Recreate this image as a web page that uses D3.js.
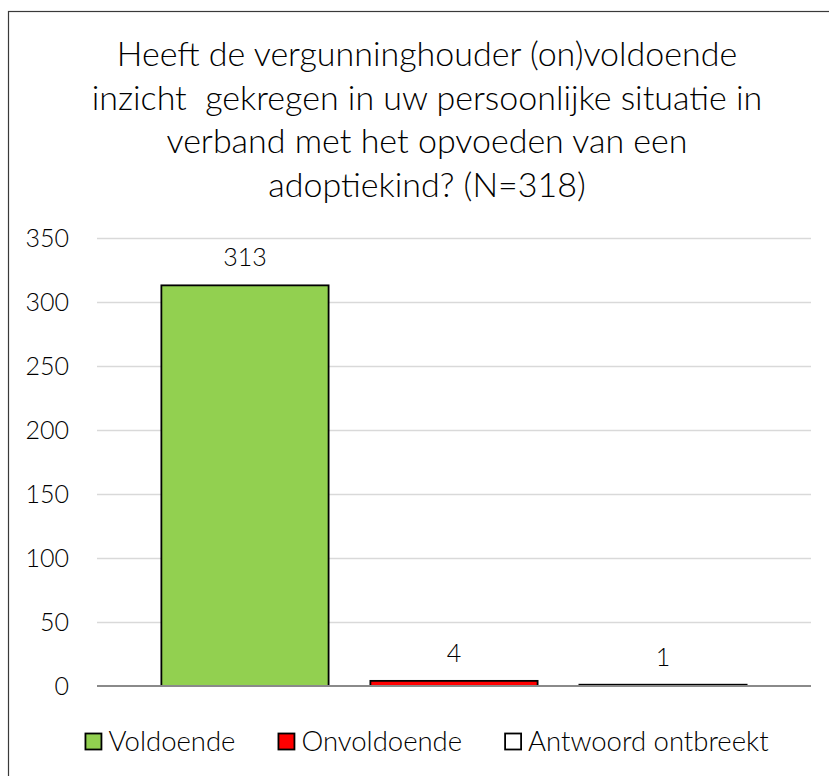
<!DOCTYPE html>
<html>
<head>
<meta charset="utf-8">
<script src="https://cdn.jsdelivr.net/npm/d3@7"></script>
<style>
  html, body { margin: 0; padding: 0; background: #fff; overflow: hidden; }
  text { font-family: Lato, "Open Sans", sans-serif; font-weight: 300; fill: #000; }
</style>
</head>
<body>
<div id="chart"></div>
<script>
// Data
const series = ['Voldoende', 'Onvoldoende', 'Antwoord ontbreekt'];
const values = [313, 4, 1];
const colors = ['#92D050', '#FF0000', '#FFFFFF'];
const yTicks = [0, 50, 100, 150, 200, 250, 300, 350];
const titleLines = [
    'Heeft de vergunninghouder (on)voldoende',
    'inzicht  gekregen in uw persoonlijke situatie in',
    'verband met het opvoeden van een',
    'adoptiekind? (N=318)'
];

const W = 829, H = 776;
const plot = {left: 97, right: 811, top: 238, bottom: 686};
const centerX = 427;

const svg = d3.select('#chart').append('svg')
    .attr('width', W)
    .attr('height', H);

// Chart border (runs off the right/bottom of the picture)
svg.append('rect')
    .attr('x', 8.5).attr('y', 11.5)
    .attr('width', 1000).attr('height', 1000)
    .attr('fill', 'none')
    .attr('stroke', '#3a3a3a')
    .attr('stroke-width', 1.2);

// Title
svg.append('text')
    .attr('text-anchor', 'middle')
    .style('font-size', '34px')
    .selectAll('tspan')
    .data(titleLines)
    .enter().append('tspan')
    .attr('x', centerX)
    .attr('y', (d, i) => 66 + i * 43.5)
    .style('white-space', 'pre')
    .text(d => d);

// Scales
const x = d3.scaleBand()
    .domain(series)
    .range([plot.left, plot.right])
    .paddingInner(0.2)
    .paddingOuter(0.308);

const y = d3.scaleLinear()
    .domain([0, 350])
    .range([plot.bottom, plot.top]);

// Gridlines
svg.append('g')
    .selectAll('line')
    .data(yTicks.filter(t => t > 0))
    .enter().append('line')
    .attr('x1', plot.left).attr('x2', plot.right)
    .attr('y1', d => Math.round(y(d)) + 0.5)
    .attr('y2', d => Math.round(y(d)) + 0.5)
    .attr('stroke', '#d9d9d9')
    .attr('stroke-width', 1.3);

// Y axis labels
const yAxis = svg.append('g')
    .attr('transform', 'translate(' + plot.left + ',0)')
    .call(d3.axisLeft(y).tickValues(yTicks).tickSize(0).tickPadding(28));
yAxis.select('.domain').remove();
yAxis.selectAll('text')
    .style('font-size', '25px')
    .style('font-family', 'Lato, sans-serif')
    .attr('fill', '#000');

// Bars
svg.selectAll('.bar')
    .data(series)
    .enter().append('rect')
    .attr('class', 'bar')
    .attr('x', d => x(d))
    .attr('width', x.bandwidth())
    .attr('y', (d, i) => y(values[i]))
    .attr('height', (d, i) => y(0) - y(values[i]))
    .attr('fill', (d, i) => colors[i])
    .attr('stroke', '#000')
    .attr('stroke-width', 1.8);

// Category axis line
svg.append('line')
    .attr('x1', plot.left).attr('x2', plot.right)
    .attr('y1', y(0)).attr('y2', y(0))
    .attr('stroke', '#8a8a8a')
    .attr('stroke-width', 2);

// Value labels
svg.selectAll('.label')
    .data(series)
    .enter().append('text')
    .attr('class', 'label')
    .attr('text-anchor', 'middle')
    .attr('x', d => x(d) + x.bandwidth() / 2)
    .attr('y', (d, i) => y(values[i]) - 19)
    .style('font-size', '25px')
    .text((d, i) => values[i]);

// Legend, centred under the chart
const legend = svg.append('g');
const items = legend.selectAll('g')
    .data(series)
    .enter().append('g');
items.append('rect')
    .attr('width', 16).attr('height', 16)
    .attr('y', 733.5)
    .attr('fill', (d, i) => colors[i])
    .attr('stroke', '#000')
    .attr('stroke-width', 1.8);
items.append('text')
    .attr('x', 23)
    .attr('y', 751)
    .style('font-size', '27.5px')
    .text(d => d);

let pos = 0;
items.each(function () {
    const w = d3.select(this).select('text').node().getComputedTextLength();
    d3.select(this).attr('transform', 'translate(' + pos + ',0)');
    pos += 23 + w + 43;
});
const legendWidth = pos - 43;
legend.attr('transform', 'translate(' + (centerX - legendWidth / 2) + ',0)');
</script>
</body>
</html>
